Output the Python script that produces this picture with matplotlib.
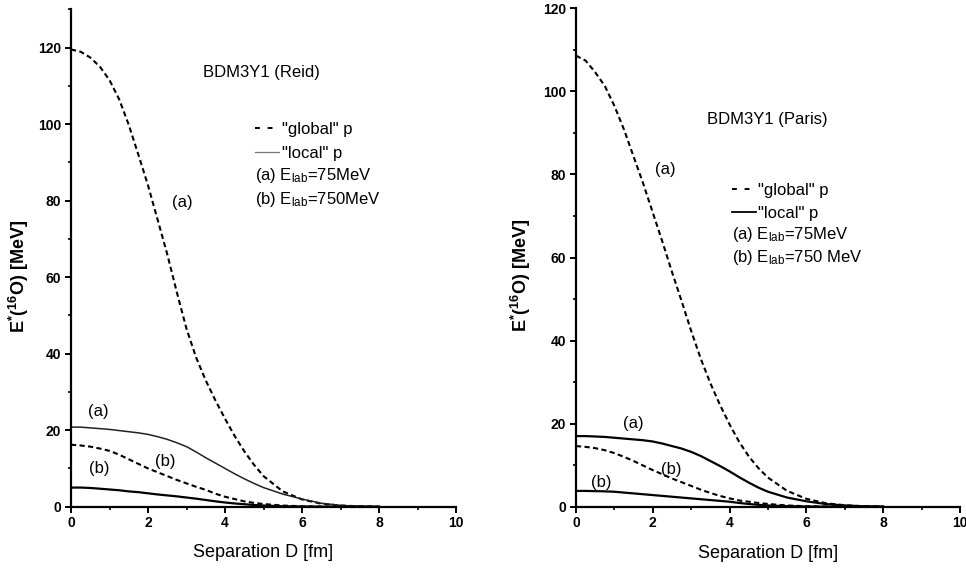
import matplotlib
matplotlib.use("Agg")
import matplotlib.pyplot as plt
from matplotlib.lines import Line2D
from matplotlib.ticker import MultipleLocator

plt.rcParams['font.family'] = ['Liberation Sans', 'DejaVu Sans']
plt.rcParams['mathtext.default'] = 'regular'

# Separation D [fm]
sep = [0, 0.25, 0.5, 0.75, 1.0, 1.25, 1.5, 1.75, 2.0, 2.25, 2.5, 2.75, 3.0,
       3.25, 3.5, 3.75, 4.0, 4.25, 4.5, 4.75, 5.0, 5.5, 6.0, 6.5, 7.0, 7.5, 8.0]

# Left panel: BDM3Y1 (Reid)
reid_global_a = [119.5, 118.9, 117.4, 115.0, 111.5, 106.5, 99.8, 92.0, 84.0, 75.0, 66.0, 56.0, 46.5,
                 39.0, 33.0, 27.8, 23.0, 18.5, 14.5, 11.0, 8.0, 4.0, 1.9, 0.8, 0.3, 0.1, 0.0]
reid_local_a = [20.8, 20.8, 20.6, 20.4, 20.2, 19.9, 19.6, 19.3, 18.9, 18.3, 17.6, 16.7, 15.7,
                14.3, 12.8, 11.4, 10.0, 8.6, 7.3, 6.1, 5.0, 3.3, 2.0, 0.9, 0.35, 0.1, 0.0]
reid_global_b = [16.2, 16.0, 15.7, 15.2, 14.6, 13.6, 12.4, 11.2, 10.0, 9.0, 8.0, 7.0, 6.1,
                 5.2, 4.4, 3.4, 2.6, 2.0, 1.4, 1.0, 0.7, 0.3, 0.1, 0.05, 0.0, 0.0, 0.0]
reid_local_b = [5.0, 5.0, 4.9, 4.7, 4.5, 4.3, 4.0, 3.8, 3.5, 3.2, 2.95, 2.7, 2.4,
                2.1, 1.75, 1.4, 1.1, 0.85, 0.65, 0.45, 0.3, 0.12, 0.05, 0.0, 0.0, 0.0, 0.0]

# Right panel: BDM3Y1 (Paris)
paris_global_a = [108.6, 107.4, 104.6, 101.3, 96.5, 90.8, 84.3, 77.8, 70.8, 63.8, 56.5, 49.5, 42.3,
                  35.6, 29.7, 24.5, 19.8, 15.6, 12.1, 9.3, 7.0, 3.8, 1.9, 0.85, 0.35, 0.1, 0.0]
paris_local_a = [17.0, 17.0, 16.9, 16.8, 16.6, 16.4, 16.2, 16.0, 15.7, 15.2, 14.6, 14.0, 13.2,
                 12.2, 11.0, 9.8, 8.5, 7.1, 5.8, 4.6, 3.6, 2.2, 1.3, 0.65, 0.3, 0.1, 0.0]
paris_global_b = [14.6, 14.4, 14.1, 13.6, 12.9, 12.0, 11.0, 9.9, 8.8, 7.8, 6.8, 5.9, 5.0,
                  4.1, 3.3, 2.6, 2.0, 1.5, 1.2, 0.9, 0.65, 0.3, 0.1, 0.05, 0.0, 0.0, 0.0]
paris_local_b = [3.8, 3.8, 3.75, 3.7, 3.6, 3.4, 3.2, 3.0, 2.8, 2.6, 2.4, 2.2, 2.0,
                 1.8, 1.6, 1.4, 1.2, 0.9, 0.65, 0.45, 0.3, 0.12, 0.05, 0.0, 0.0, 0.0, 0.0]

xticks = [0, 2, 4, 6, 8, 10]
yticks = [0, 20, 40, 60, 80, 100, 120]

fig = plt.figure(figsize=(9.66, 5.70), dpi=100)
axL = fig.add_axes([71/966, 63.3/570, 385/966, 497.4/570])
axR = fig.add_axes([576/966, 63.3/570, 384/966, 498.4/570])

DASH = (0, (2.5, 1.6))
xlab = 'Separation D [fm]'
ylab = r'E$^{*}$($^{16}$O) [MeV]'
FS = 12


def style(ax, ytop):
    ax.set_xlim(0, 10)
    ax.set_ylim(0, ytop)
    for s in ('top', 'right'):
        ax.spines[s].set_visible(False)
    for s in ('left', 'bottom'):
        ax.spines[s].set_linewidth(1.6)
    ax.set_xticks(xticks)
    ax.set_yticks(yticks)
    ax.xaxis.set_minor_locator(MultipleLocator(1))
    ax.yaxis.set_minor_locator(MultipleLocator(10))
    ax.tick_params(which='major', direction='out', length=4, width=1.4,
                   labelsize=10, pad=3)
    ax.tick_params(which='minor', direction='out', length=2.5, width=1.2)
    for lab in ax.get_xticklabels() + ax.get_yticklabels():
        lab.set_fontweight('bold')
    ax.set_xlabel(xlab, fontsize=13)
    ax.set_ylabel(ylab, fontsize=13, fontweight='bold')
    ax.xaxis.label.set_va('center')
    ax.yaxis.label.set_va('center')


# ---- Left panel ----
style(axL, 130)
axL.plot(sep, reid_global_a, color='k', lw=1.5, ls=DASH)
axL.plot(sep, reid_global_b, color='k', lw=1.5, ls=DASH)
axL.plot(sep, reid_local_a, color='#222222', lw=1.1)
axL.plot(sep, reid_local_b, color='k', lw=1.6)
axL.xaxis.set_label_coords(0.499, -0.093)
axL.yaxis.set_label_coords(-0.135, 0.464)

axL.text(4.94, 113.4, 'BDM3Y1 (Reid)', fontsize=FS, ha='center', va='center')
axL.text(2.89, 79.5, '(a)', fontsize=FS, ha='center', va='center')
axL.text(0.70, 25.0, '(a)', fontsize=FS, ha='center', va='center')
axL.text(0.74, 10.0, '(b)', fontsize=FS, ha='center', va='center')
axL.text(2.44, 11.7, '(b)', fontsize=FS, ha='center', va='center')
axL.text(4.79, 85.3, r'(a) E$_{lab}$=75MeV', fontsize=FS, ha='left', va='baseline')
axL.text(4.79, 79.0, r'(b) E$_{lab}$=750MeV', fontsize=FS, ha='left', va='baseline')
hL = [Line2D([], [], color='k', lw=1.4, ls=(0, (2.5, 4.0))),
      Line2D([], [], color='#777777', lw=0.9)]
axL.legend(hL, ['"global" p', '"local" p'], loc='upper left',
           bbox_to_anchor=(0.478, 0.774), frameon=False, fontsize=FS,
           handlelength=1.45, handletextpad=0.15, borderpad=0,
           borderaxespad=0, labelspacing=0.55)

# ---- Right panel ----
style(axR, 120)
axR.plot(sep, paris_global_a, color='k', lw=1.5, ls=DASH)
axR.plot(sep, paris_global_b, color='k', lw=1.5, ls=DASH)
axR.plot(sep, paris_local_a, color='k', lw=1.6)
axR.plot(sep, paris_local_b, color='k', lw=1.6)
axR.xaxis.set_label_coords(0.5, -0.093)
axR.yaxis.set_label_coords(-0.143, 0.464)

axR.text(4.97, 93.3, 'BDM3Y1 (Paris)', fontsize=FS, ha='center', va='center')
axR.text(2.32, 81.2, '(a)', fontsize=FS, ha='center', va='center')
axR.text(1.49, 20.0, '(a)', fontsize=FS, ha='center', va='center')
axR.text(0.67, 5.9, '(b)', fontsize=FS, ha='center', va='center')
axR.text(2.49, 8.9, '(b)', fontsize=FS, ha='center', va='center')
axR.text(4.05, 64.5, r'(a) E$_{lab}$=75MeV', fontsize=FS, ha='left', va='baseline')
axR.text(4.05, 58.8, r'(b) E$_{lab}$=750 MeV', fontsize=FS, ha='left', va='baseline')
hR = [Line2D([], [], color='k', lw=1.4, ls=(0, (2.5, 4.0))),
      Line2D([], [], color='k', lw=1.3)]
axR.legend(hR, ['"global" p', '"local" p'], loc='upper left',
           bbox_to_anchor=(0.405, 0.65), frameon=False, fontsize=FS,
           handlelength=1.45, handletextpad=0.15, borderpad=0,
           borderaxespad=0, labelspacing=0.5)

fig.savefig('out.png', dpi=100)
